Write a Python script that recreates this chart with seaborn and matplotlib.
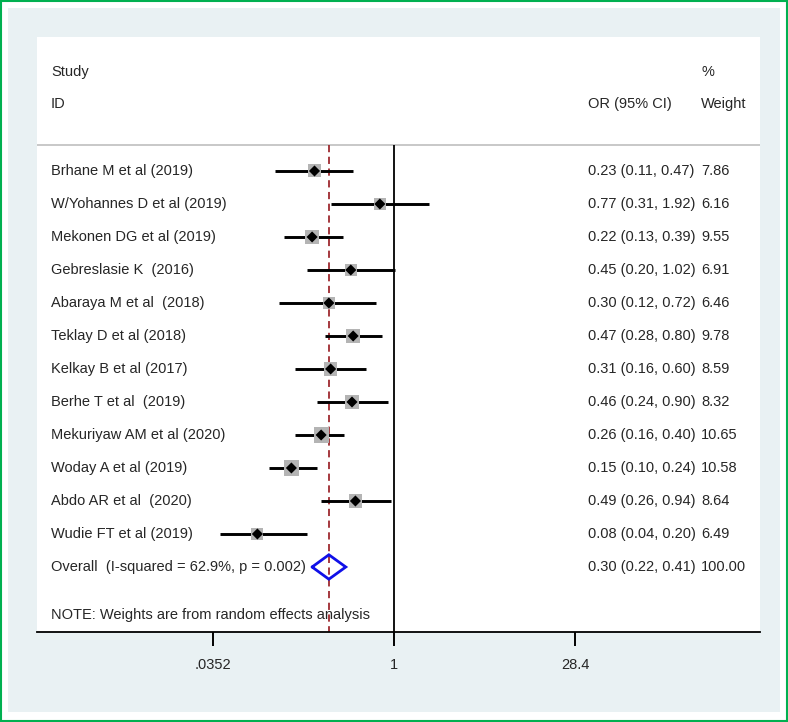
import numpy as np
import pandas as pd
import seaborn as sns
import matplotlib.pyplot as plt
from matplotlib.patches import Rectangle
import matplotlib.transforms as mtransforms

# study data
studies = ["Brhane M et al (2019)", "W/Yohannes D et al (2019)", "Mekonen DG et al (2019)",
           "Gebreslasie K  (2016)", "Abaraya M et al  (2018)", "Teklay D et al (2018)",
           "Kelkay B et al (2017)", "Berhe T et al  (2019)", "Mekuriyaw AM et al (2020)",
           "Woday A et al (2019)", "Abdo AR et al  (2020)", "Wudie FT et al (2019)"]
odds = [0.23, 0.77, 0.22, 0.45, 0.30, 0.47, 0.31, 0.46, 0.26, 0.15, 0.49, 0.08]
lower = [0.11, 0.31, 0.13, 0.20, 0.12, 0.28, 0.16, 0.24, 0.16, 0.10, 0.26, 0.04]
upper = [0.47, 1.92, 0.39, 1.02, 0.72, 0.80, 0.60, 0.90, 0.40, 0.24, 0.94, 0.20]
weights = [7.86, 6.16, 9.55, 6.91, 6.46, 9.78, 8.59, 8.32, 10.65, 10.58, 8.64, 6.49]

overall_label = "Overall  (I-squared = 62.9%, p = 0.002)"
overall_or, overall_lo, overall_hi = 0.30, 0.22, 0.41
tick_vals = [0.0352, 1, 28.4]
tick_labels = [".0352", "1", "28.4"]

df = pd.DataFrame({"study": studies, "or": odds, "lo": lower, "hi": upper, "w": weights})
df["row"] = np.arange(len(df))
overall_row = len(df)

sns.set_style("white")
plt.rcParams["font.family"] = ["Liberation Sans", "DejaVu Sans"]
fs = 10.5

W, H = 788, 722
fig = plt.figure(figsize=(W / 100, H / 100), dpi=100)
fig.patch.set_facecolor("white")
fig.patches.append(Rectangle((8 / W, 10 / H), 772 / W, 704 / H, transform=fig.transFigure,
                             facecolor="#e9f1f3", edgecolor="none", zorder=-5))
fig.patches.append(Rectangle((0.001, 0.001), 0.998, 0.997, transform=fig.transFigure,
                             facecolor="none", edgecolor="#00b050", lw=1.5, zorder=10))

ax = fig.add_axes([37 / W, (H - 632) / H, (760 - 37) / W, (632 - 37) / H])
ax.set_facecolor("white")
ax.set_xscale("log")
ax.set_xlim(np.exp((37 - 394) / 54.09), np.exp((760 - 394) / 54.09))
ax.set_ylim(13.97, -4.06)

sep = -0.79
ax.axhline(sep, color="#c4c4c4", lw=1.3)
ax.vlines(1, sep, 13.97, color="black", lw=1.3)
ax.vlines(overall_or, sep, 13.97, color="#9e2a2f", lw=1.3, linestyles=(0, (4, 2.5)))

# CI lines
ax.hlines(df["row"], df["lo"], df["hi"], color="black", lw=2.1, zorder=3)
# weight squares, area proportional to weight
k = 11.2
sns.scatterplot(data=df, x="or", y="row", size="w", sizes=(k * df["w"].min(), k * df["w"].max()),
                size_norm=(df["w"].min(), df["w"].max()), marker="s", color="#b4b4b4",
                edgecolor="none", legend=False, ax=ax, zorder=4)
# point estimates
sns.scatterplot(data=df, x="or", y="row", marker="D", s=32, color="black",
                edgecolor="none", legend=False, ax=ax, zorder=5)

# overall diamond
dh = 0.37
ax.plot([overall_lo, overall_or, overall_hi, overall_or, overall_lo],
        [overall_row, overall_row - dh, overall_row, overall_row + dh, overall_row],
        color="#1010e8", lw=2.0, zorder=5, solid_joinstyle="miter")

tr = mtransforms.blended_transform_factory(ax.transAxes, ax.transData)
x_lab, x_ci, x_w = (51 - 37) / 723, (588 - 37) / 723, (701 - 37) / 723
for _, r in df.iterrows():
    ax.text(x_lab, r["row"], r["study"], transform=tr, fontsize=fs, va="center")
    ax.text(x_ci, r["row"], f"{r['or']:.2f} ({r['lo']:.2f}, {r['hi']:.2f})",
            transform=tr, fontsize=fs, va="center")
    ax.text(x_w, r["row"], f"{r['w']:.2f}", transform=tr, fontsize=fs, va="center")
ax.text(x_lab, overall_row, overall_label, transform=tr, fontsize=fs, va="center")
ax.text(x_ci, overall_row, f"{overall_or:.2f} ({overall_lo:.2f}, {overall_hi:.2f})",
        transform=tr, fontsize=fs, va="center")
ax.text(x_w, overall_row, "100.00", transform=tr, fontsize=fs, va="center")
ax.text(x_lab, 13.45, "NOTE: Weights are from random effects analysis", transform=tr,
        fontsize=fs, va="center")

ax.text(x_lab, -3.0, "Study", transform=tr, fontsize=fs, va="center")
ax.text(x_lab, -2.03, "ID", transform=tr, fontsize=fs, va="center")
ax.text(x_ci, -2.03, "OR (95% CI)", transform=tr, fontsize=fs, va="center")
ax.text(x_w, -3.0, "%", transform=tr, fontsize=fs, va="center")
ax.text(x_w, -2.03, "Weight", transform=tr, fontsize=fs, va="center")

for s in ["top", "left", "right"]:
    ax.spines[s].set_visible(False)
ax.spines["bottom"].set_color("black")
ax.spines["bottom"].set_linewidth(1.3)
ax.set_yticks([])
ax.set_xticks(tick_vals)
ax.set_xticklabels(tick_labels, fontsize=fs)
ax.xaxis.set_minor_locator(plt.NullLocator())
ax.tick_params(axis="x", direction="out", length=10, width=1.4, color="black", pad=8.5, bottom=True)
ax.set_xlabel("")
ax.set_ylabel("")

fig.savefig("out.png", dpi=100)
